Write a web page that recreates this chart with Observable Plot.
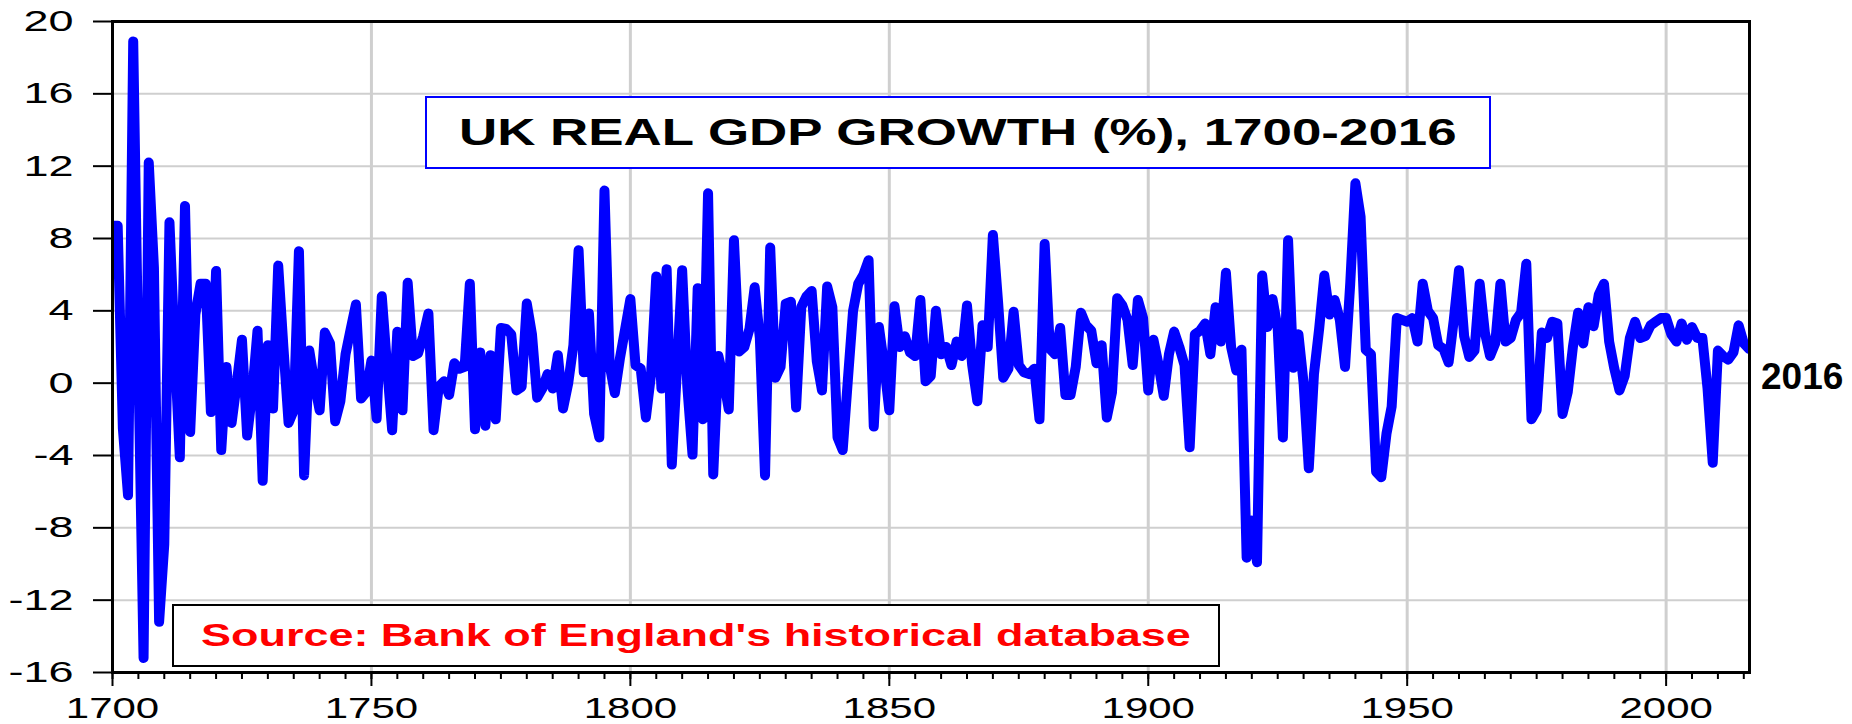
<!DOCTYPE html>
<html>
<head>
<meta charset="utf-8">
<script src="https://cdn.jsdelivr.net/npm/d3@7"></script>
<script src="https://cdn.jsdelivr.net/npm/@observablehq/plot@0.6"></script>
<style>
  html, body { margin: 0; padding: 0; background: #fff; }
  #wrap { position: relative; width: 1852px; height: 724px; overflow: hidden; }
  .ff { font-family: "Liberation Sans", Arial, Helvetica, sans-serif; }
  .titlebox { position: absolute; left: 425px; top: 96px; width: 1066px; height: 73px; box-sizing: border-box;
    border: 2px solid #0000ff; background: #fff; display: flex; align-items: center; justify-content: center; }
  .titlebox span { font-weight: bold; font-size: 37px; color: #000; display: inline-block; white-space: nowrap;
    transform: scaleX(1.43); }
  .sourcebox { position: absolute; left: 172px; top: 604px; width: 1048px; height: 63px; box-sizing: border-box;
    border: 2px solid #000; background: #fff; display: flex; align-items: center; }
  .sourcebox span { font-weight: bold; font-size: 31px; color: #ff0000; display: inline-block; white-space: nowrap;
    margin-left: 27px; transform: scaleX(1.45); transform-origin: left center; }
  .endlabel { position: absolute; left: 1761px; top: 377px; transform: translateY(-50%); font-weight: bold;
    font-size: 37px; color: #000; white-space: nowrap; }
</style>
</head>
<body>
<div id="wrap"></div>
<script>
// ---- data ----
const firstYear = 1700;
const growth = [
  8.7, 8.7, -2.5, -6.2, 18.9, 1.0, -15.2, 12.2, 6.4, -13.2,
  -8.9, 8.9, 2.0, -4.1, 9.8, -2.7, 3.8, 5.5, 5.5, -1.6,
  6.2, -3.7, 0.9, -2.2, 0.0, 2.4, -2.9, -0.5, 2.9, -5.4,
  2.1, -1.4, 6.5, 2.0, -2.2, -1.5, 7.3, -5.1, 1.8, 0.0,
  -1.5, 2.8, 2.2, -2.1, -1.0, 1.6, 3.0, 4.35, -0.85, -0.5,
  1.25, -1.95, 4.8, 1.0, -2.6, 2.85, -1.5, 5.55, 1.5, 1.65,
  2.6, 3.85, -2.6, -0.2, 0.1, -0.65, 1.1, 0.8, 0.9, 5.5,
  -2.55, 1.7, -2.35, 1.55, -2.0, 3.05, 3.0, 2.7, -0.4, -0.2,
  4.4, 2.7, -0.8, -0.3, 0.5, -0.3, 1.55, -1.4, 0.0, 2.1,
  7.35, 0.6, 3.85, -1.7, -3.0, 10.65, 1.0, -0.55, 1.4, 3.0,
  4.65, 1.0, 0.8, -1.9, 0.5, 5.9, -0.3, 6.3, -4.5, 0.8,
  6.25, -0.2, -3.95, 5.25, -2.0, 10.5, -5.05, 1.5, 0.2, -1.45,
  7.9, 1.75, 2.0, 3.0, 5.3, 2.5, -5.1, 7.5, 0.3, 0.9,
  4.4, 4.5, -1.35, 4.2, 4.8, 5.1, 1.2, -0.4, 5.35, 4.2,
  -3.0, -3.7, 0.2, 4.0, 5.5, 6.0, 6.8, -2.4, 3.1, 1.0,
  -1.5, 4.25, 2.0, 2.6, 1.7, 1.5, 4.6, 0.1, 0.4, 4.0,
  1.6, 2.0, 1.0, 2.3, 1.5, 4.3, 1.0, -1.0, 3.2, 2.0,
  8.2, 4.5, 0.3, 0.8, 3.95, 1.0, 0.6, 0.5, 0.8, -2.0,
  7.7, 1.9, 1.6, 3.05, -0.65, -0.65, 0.9, 3.9, 3.2, 2.9,
  1.1, 2.1, -1.9, -0.5, 4.7, 4.3, 3.5, 1.0, 4.6, 3.6,
  -0.4, 2.4, 1.0, -0.7, 1.6, 2.85, 2.0, 1.0, -3.55, 2.7,
  2.9, 3.3, 1.6, 4.2, 2.3, 6.1, 2.0, 0.7, 1.85, -9.65,
  -7.6, -9.9, 5.95, 3.1, 4.65, 3.0, -3.0, 7.9, 0.85, 2.7,
  0.0, -4.7, 0.5, 3.0, 5.95, 3.8, 4.6, 3.5, 0.9, 5.5,
  11.05, 9.2, 1.85, 1.6, -4.9, -5.2, -2.8, -1.3, 3.6, 3.5,
  3.4, 3.6, 2.3, 5.5, 4.0, 3.6, 2.1, 1.9, 1.15, 3.5,
  6.25, 2.6, 1.45, 1.8, 5.5, 2.8, 1.5, 2.2, 5.5, 2.3,
  2.5, 3.5, 3.9, 6.6, -2.0, -1.5, 2.8, 2.5, 3.4, 3.3,
  -1.7, -0.5, 2.0, 3.9, 2.2, 4.2, 3.15, 4.9, 5.5, 2.3,
  0.8, -0.4, 0.4, 2.5, 3.4, 2.5, 2.6, 3.2, 3.4, 3.6,
  3.6, 2.7, 2.3, 3.3, 2.4, 3.1, 2.5, 2.5, -0.3, -4.4,
  1.8, 1.5, 1.3, 1.7, 3.2, 2.2, 1.9
];
const years = growth.map((_, i) => firstYear + i);
const yTicks = [-16, -12, -8, -4, 0, 4, 8, 12, 16, 20];
const xMajorTicks = [1700, 1750, 1800, 1850, 1900, 1950, 2000];
const xMinorTicks = d3.range(1700, 2017, 5);
const titleText = "UK REAL GDP GROWTH (%), 1700-2016";
const sourceText = "Source: Bank of England's historical database";
const endLabel = "2016";

const data = years.map((year, i) => ({year, growth: growth[i]}));

const chart = Plot.plot({
  width: 1852,
  height: 724,
  marginLeft: 112,
  marginRight: 103,
  marginTop: 21,
  marginBottom: 52,
  style: {fontFamily: '"Liberation Sans", Arial, Helvetica, sans-serif', fontSize: "30px", color: "#000", background: "#fff", overflow: "visible"},
  x: {domain: [1700, 2016.1], label: null},
  y: {domain: [-16, 20], label: null},
  marks: [
    Plot.gridY(yTicks, {stroke: "#cfcfcf", strokeOpacity: 1, strokeWidth: 2}),
    Plot.gridX(xMajorTicks.slice(1), {stroke: "#cfcfcf", strokeOpacity: 1, strokeWidth: 3}),
    Plot.line(data, {x: "year", y: "growth", stroke: "#0000ff", strokeWidth: 10, strokeLinejoin: "round", strokeLinecap: "round", clip: true}),
    Plot.frame({stroke: "#000", strokeWidth: 3}),
    Plot.axisY(yTicks, {tickSize: 19, tickPadding: 20, strokeWidth: 2, fontSize: 30, tickFormat: d => String(d), label: null}),
    Plot.axisX(xMinorTicks, {tickSize: 7, strokeWidth: 2, tickFormat: () => "", label: null}),
    Plot.axisX(xMajorTicks, {tickSize: 14, tickPadding: 10, strokeWidth: 2, fontSize: 30, tickFormat: d => String(d), label: null})
  ]
});

// stretch tick labels horizontally like the reference
chart.querySelectorAll('g[aria-label$="tick label"]').forEach(g => {
  const s = g.getAttribute("aria-label").startsWith("y") ? 1.5 : 1.4;
  g.querySelectorAll("text").forEach(t => {
    t.setAttribute("transform", (t.getAttribute("transform") || "") + ` scale(${s},1)`);
  });
});

const wrap = document.getElementById("wrap");
wrap.appendChild(chart);

const tb = document.createElement("div");
tb.className = "titlebox ff";
tb.innerHTML = "<span></span>";
tb.firstChild.textContent = titleText;
wrap.appendChild(tb);

const sb = document.createElement("div");
sb.className = "sourcebox ff";
sb.innerHTML = "<span></span>";
sb.firstChild.textContent = sourceText;
wrap.appendChild(sb);

const el = document.createElement("div");
el.className = "endlabel ff";
el.textContent = endLabel;
wrap.appendChild(el);
</script>
</body>
</html>
